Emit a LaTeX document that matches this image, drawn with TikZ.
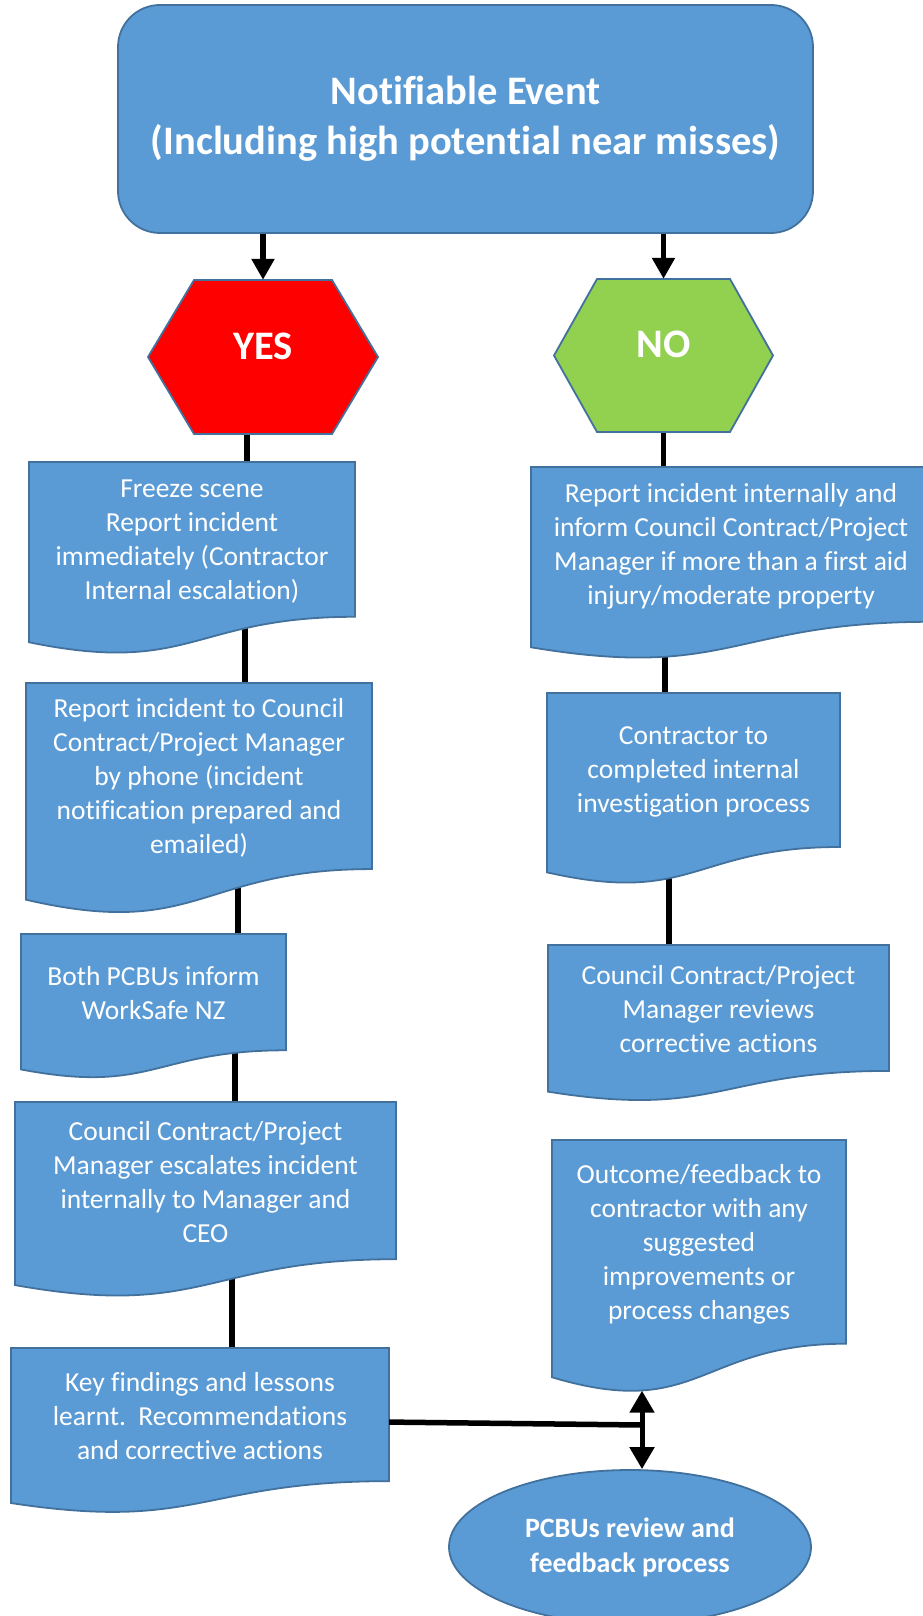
\documentclass[tikz,border=0pt]{standalone}
\usepackage{fontspec}
\setmainfont{Carlito}[Ligatures=NoCommon]
\usepackage{tikz}
\usetikzlibrary{arrows.meta,backgrounds}
\usetikzlibrary{shapes.geometric}
\definecolor{boxblue}{HTML}{5B9BD5}
\definecolor{boxline}{HTML}{41719C}
\definecolor{yesred}{HTML}{FF0000}
\definecolor{nogreen}{HTML}{92D050}
\tikzstyle{blueshaded}=[fill=boxblue, draw=boxline, line width=1.8pt]
\tikzstyle{redshaded}=[fill=yesred, draw=boxline, line width=1.8pt]
\tikzstyle{greenshaded}=[fill=nogreen, draw=boxline, line width=1.8pt]
\tikzstyle{doctext}=[inner sep=0pt, align=center, text=white, font=\fontsize{27.5}{34}\selectfont]
\tikzstyle{hextext}=[inner sep=0pt, text=white, font=\fontsize{40.5}{48}\selectfont\bfseries]
\tikzstyle{link}=[line width=5.5pt]
\tikzstyle{arrowlink}=[line width=5.5pt, -{Triangle[width=22pt,length=21pt]}]
\tikzstyle{dlink}=[line width=5pt, {Triangle[width=24pt,length=22pt]}-{Triangle[width=24pt,length=22pt]}]
% document box: name, left, top, width, height, text
\newcommand{\docNbox}[6]{
	\draw[blueshaded] (#2,#3) -- ({#2+#4},#3) -- ({#2+#4},{#3+0.802*#5}) .. controls ({#2+0.5*#4},{#3+0.802*#5}) and ({#2+0.5*#4},{#3+1.1075*#5}) .. (#2,{#3+0.934*#5}) -- cycle;
	\node[doctext, minimum width=#4, minimum height={0.802*#5}] (#1) at ({#2+0.5*#4},{#3+0.41*#5}) {#6};
	\coordinate (#1-b) at ({#2+0.27*#4},{#3+0.987*#5});
}
% hexagon: name, style, left, top, width, height, inset, text
\newcommand{\hexNbox}[8]{
	\draw[#2] (#3,{#4+0.5*#6}) -- ({#3+#7},#4) -- ({#3+#5-#7},#4) -- ({#3+#5},{#4+0.5*#6}) -- ({#3+#5-#7},{#4+#6}) -- ({#3+#7},{#4+#6}) -- cycle;
	\node[minimum width=#5, minimum height=#6, inner sep=0pt] (#1) at ({#3+0.5*#5},{#4+0.5*#6}) {};
	\node[hextext] (#1-t) at ([yshift=11pt]#1.center) {#8};
}

\begin{document}
\begin{tikzpicture}[x=1pt,y=-1pt]
	\useasboundingbox (0,0) rectangle (922,1616);
	\node[blueshaded, rounded corners=42pt, minimum width=695, minimum height=228, inner sep=0pt, align=center, text=white, font=\fontsize{40.5}{50}\selectfont\bfseries] (event) at (465.5,119) {Notifiable Event\\(Including high potential near misses)};
	\hexNbox{yes}{redshaded}{148}{280}{230}{154}{46}{YES}
	\hexNbox{no}{greenshaded}{554}{279}{219}{153}{43}{NO}
	\draw[arrowlink] (event.south -| yes.north) -- (yes.north);
	\draw[arrowlink] (event.south -| no.north) -- (no.north);
	% yes column
	\docNbox{freeze}{29}{462}{326}{193}{Freeze scene\\Report incident\\immediately (Contractor\\Internal escalation)}
	\docNbox{phone}{26}{683}{346}{232}{Report incident to Council\\Contract/Project Manager\\by phone (incident\\notification prepared and\\emailed)}
	\docNbox{worksafe}{21}{934}{265}{145}{Both PCBUs inform\\WorkSafe NZ}
	\docNbox{escalate}{15}{1102}{381}{196}{Council Contract/Project\\Manager escalates incident\\internally to Manager and\\CEO}
	\docNbox{findings}{11}{1348}{378}{166}{Key findings and lessons\\learnt.\ \ Recommendations\\and corrective actions}
	% no column
	\docNbox{internal}{531}{467}{400}{193}{Report incident internally and\\inform Council Contract/Project\\Manager if more than a first aid\\injury/moderate property}
	\docNbox{investigate}{547}{693}{293}{192}{Contractor to\\completed internal\\investigation process}
	\docNbox{reviews}{548}{945}{341}{157}{Council Contract/Project\\Manager reviews\\corrective actions}
	\docNbox{outcome}{552}{1140}{294}{254}{Outcome/feedback to\\contractor with any\\suggested\\improvements or\\process changes}
	\node[blueshaded, ellipse, minimum width=362, minimum height=154, inner sep=0pt, align=center, text=white, font=\fontsize{28}{35}\selectfont\bfseries] (review) at (630,1547) {PCBUs review and\\feedback process};
	\coordinate (joint) at (642,1425);
	\begin{scope}[on background layer]
		\draw[link] ([xshift=-16]yes.center) -- ([xshift=-16]yes.center |- freeze.north);
		\draw[link] ([xshift=53]freeze.center) -- ([xshift=53]freeze.center |- phone.north);
		\draw[link] ([xshift=39]phone.center) -- ([xshift=39]phone.center |- worksafe.north);
		\draw[link] ([xshift=81.5]worksafe.center) -- ([xshift=81.5]worksafe.center |- escalate.north);
		\draw[link] ([xshift=26.5]escalate.center) -- ([xshift=26.5]escalate.center |- findings.north);
		\draw[link] (no.center) -- (no.center |- internal.north);
		\draw[link] ([xshift=-66]internal.center) -- ([xshift=-66]internal.center |- investigate.north);
		\draw[link] ([xshift=-24.5]investigate.center) -- ([xshift=-24.5]investigate.center |- reviews.north);
	\end{scope}
	\draw[link] ([yshift=-6pt]findings.east) -- (joint);
	\draw[dlink] (outcome-b -| joint) -- (review.north -| joint);
\end{tikzpicture}
\end{document}
